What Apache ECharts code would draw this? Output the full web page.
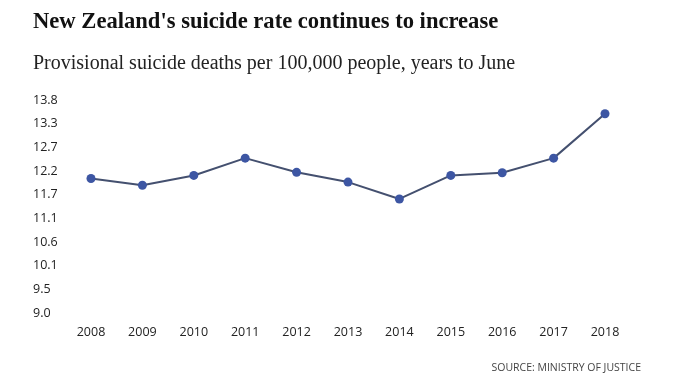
<!DOCTYPE html>
<html>
<head>
<meta charset="utf-8">
<script src="https://cdn.jsdelivr.net/npm/echarts@6/dist/echarts.min.js"></script>
<style>
html,body{margin:0;padding:0;background:#fff;}
#chart{width:674px;height:389px;}
</style>
</head>
<body>
<div id="chart"></div>
<script>
var years = ['2008','2009','2010','2011','2012','2013','2014','2015','2016','2017','2018'];
var rates = [12.03, 11.88, 12.10, 12.49, 12.17, 11.95, 11.57, 12.10, 12.16, 12.49, 13.49];
var yMin = 9.0, yMax = 13.8, yTickCount = 9;
var titleText = "New Zealand's suicide rate continues to increase";
var subtitleText = "Provisional suicide deaths per 100,000 people, years to June";
var sourceText = "SOURCE: MINISTRY OF JUSTICE";

var chart = echarts.init(document.getElementById('chart'), null, {renderer:'canvas'});
chart.setOption({
  backgroundColor: '#ffffff',
  animation: false,
  grid: {left: 91, right: 69, top: 100, bottom: 76, containLabel: false},
  xAxis: {
    type: 'category',
    data: years,
    boundaryGap: false,
    axisLine: {show: false},
    axisTick: {show: false},
    splitLine: {show: false},
    axisLabel: {color: '#222', fontSize: 12.5, fontFamily: '"Open Sans", sans-serif', margin: 13}
  },
  yAxis: {
    type: 'value',
    min: yMin,
    max: yMax,
    interval: (yMax - yMin) / yTickCount,
    axisLine: {show: false},
    axisTick: {show: false},
    splitLine: {show: false},
    axisLabel: {
      color: '#222', fontSize: 12.5, fontFamily: '"Open Sans", sans-serif',
      align: 'left', margin: 58,
      formatter: function (v) { return (Math.round(v * 10) / 10).toFixed(1); }
    }
  },
  series: [{
    type: 'line',
    data: rates,
    symbol: 'circle',
    symbolSize: 9,
    lineStyle: {color: '#44506f', width: 2},
    itemStyle: {color: '#3d56a3'}
  }],
  graphic: [
    {type: 'text', left: 33, top: 11, style: {text: titleText, fill: '#111', font: 'bold 22.6px "Liberation Serif", serif'}},
    {type: 'text', left: 33, top: 54, style: {text: subtitleText, fill: '#222', font: '20px "Liberation Serif", serif'}},
    {type: 'text', right: 33, top: 363, style: {text: sourceText, fill: '#444', font: '10.5px "Open Sans", sans-serif'}}
  ]
});
</script>
</body>
</html>
